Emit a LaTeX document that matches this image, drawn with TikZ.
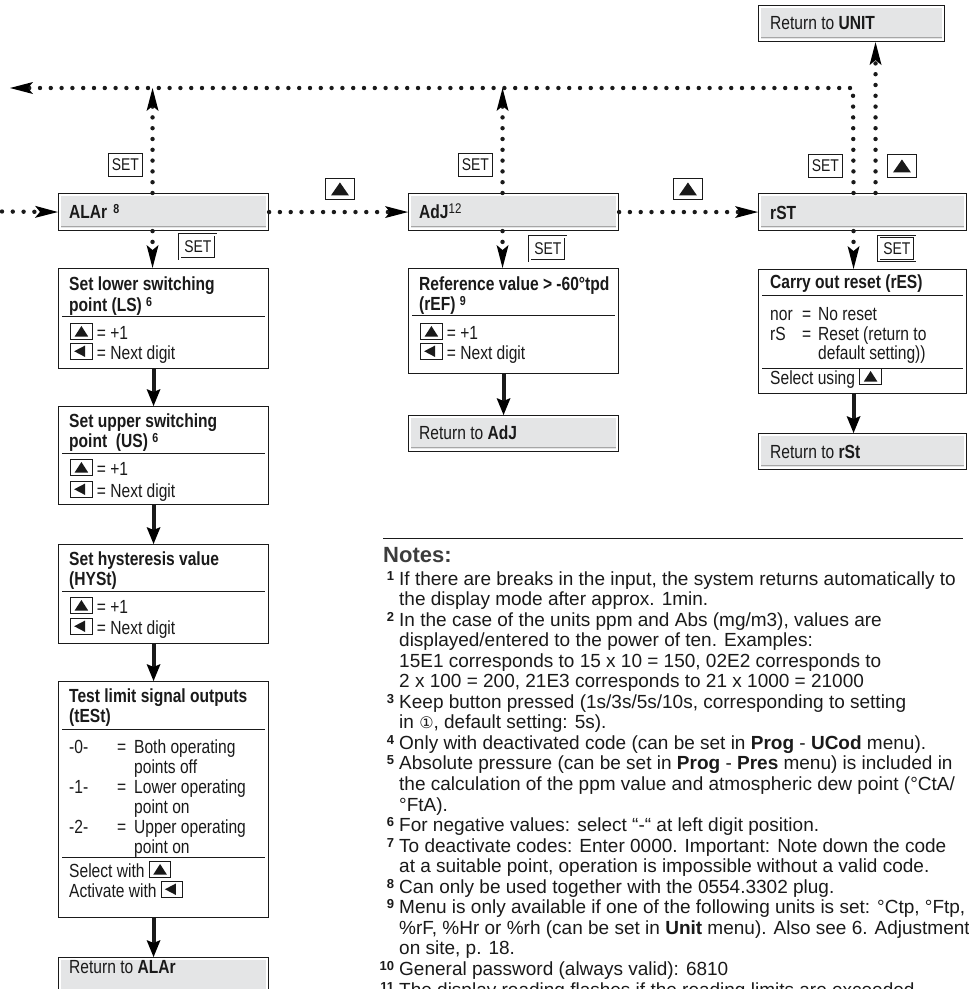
\documentclass[tikz,border=0pt]{standalone}
\usepackage{fontspec}
\setmainfont{Liberation Sans}
\newfontfamily\cond[FakeStretch=0.82]{Liberation Sans}
\newfontfamily\dejavu{DejaVu Sans}
\usetikzlibrary{arrows.meta,calc}
\definecolor{boxgrey}{HTML}{E4E5E6}
\definecolor{ink}{HTML}{1A1A1A}
\newcommand\upkey{\tikz[baseline=0pt,x=1pt,y=1pt]{\draw[line width=0.9pt,ink] (0.5,0) rectangle (22,15.5); \fill[ink] (4.5,2.5) -- (18,2.5) -- (11.25,13) -- cycle;}}
\newcommand\leftkey{\tikz[baseline=0pt,x=1pt,y=1pt]{\draw[line width=0.9pt,ink] (0.5,0) rectangle (22,15.5); \fill[ink] (4,7.75) -- (15,13.5) -- (15,2) -- cycle;}}
\newcommand\tri{\tikz[x=1pt,y=1pt]\fill[ink] (0,0) -- (18,0) -- (9,13) -- cycle;}
\newcommand\supb[1]{\raisebox{4.5pt}{\fontsize{13}{12}\selectfont\bfseries #1}}
\newcommand\supr[1]{\raisebox{4.5pt}{\fontsize{14}{12}\selectfont\mdseries #1}}
\newcommand\nn[1]{\makebox[12pt][r]{\raisebox{5pt}[0pt][0pt]{\fontsize{13}{12}\selectfont\bfseries #1}}}
\newcommand\tx[5][bd]{\node[#1] (#2) at (#3,#4) {#5};}
\newcommand\retnode[5]{%
  \node[boxst, minimum width={#4-#2}, minimum height={#5-#3}] (#1) at (#2,#3) {};
  \fill[boxgrey] ($(#1.north west)+(3,3)$) rectangle ($(#1.south east)+(-3,-3)$);
  \draw[gray!70, line width=1.4pt] ($(#1.south west)+(3,-4.5)$) -- ($(#1.south east)+(-3,-4.5)$);
}
\tikzset{
  boxst/.style={draw=ink, line width=1.1pt, fill=white, inner sep=0pt, anchor=north west},
  hd/.style={font=\cond\bfseries\fontsize{19}{20}\selectfont, anchor=base west, inner sep=0pt, text=ink},
  bd/.style={font=\cond\fontsize{19}{20}\selectfont, anchor=base west, inner sep=0pt, text=ink},
  dotln/.style={line width=4.4pt, line cap=round, dash pattern=on 0pt off 10.8pt, draw=ink},
  dotarr/.style={dotln, -{Stealth[length=23pt,width=12pt,inset=5pt,line width=0pt]}},
  solarr/.style={line width=4pt, draw=ink, -{Stealth[length=17pt,width=14pt,inset=3pt,line width=0pt]}},
  keysgl/.style={draw=ink, line width=0.9pt, inner sep=0pt, font=\cond\fontsize{17}{17}\selectfont, text=ink, anchor=north west},
  keydbl/.style={draw=ink, double=white, double distance=1.4pt, line width=0.8pt, inner sep=0pt, font=\cond\fontsize{17}{17}\selectfont, text=ink, anchor=north west},
  sepl/.style={draw=ink, line width=1pt},
}
\begin{document}
\begin{tikzpicture}[x=1pt,y=-1pt]
\useasboundingbox (0,0) rectangle (969,989);
\clip (0,0) rectangle (969,989);
\fill[white] (0,0) rectangle (969,989);

% ---- top row
\retnode{unit}{758}{5}{944}{41}
\tx{tunit}{770}{29}{Return to \textbf{UNIT}}
\retnode{alar}{58}{193}{268}{230}
\tx[hd]{talar}{69}{218}{ALAr\hspace{6pt}\supb{8}}
\retnode{adj}{408}{193}{618}{230}
\tx[hd]{tadj}{419}{218}{AdJ\supr{12}}
\retnode{rst}{758}{193}{966}{230}
\tx[hd]{trst}{770}{219}{rST}

\coordinate (corner) at (853,88);
\coordinate (leftend) at (10,88);
\coordinate (inL) at (2,211.5);

% ---- left column
\node[boxst, minimum width=210pt, minimum height=100pt] (b1) at (58,268) {};
\draw[sepl] ($(b1.north west)+(4,48)$) -- ($(b1.north east)+(-4,48)$);
\tx[hd]{t1a}{69}{290}{Set lower switching}
\tx[hd]{t1b}{69}{311}{point (LS) \supb{6}}
\tx{t1c}{70}{339}{\upkey{} = +1}
\tx{t1d}{70}{359}{\leftkey{} = Next digit}

\node[boxst, minimum width=210pt, minimum height=98pt] (b2) at (58,406) {};
\draw[sepl] ($(b2.north west)+(4,47)$) -- ($(b2.north east)+(-4,47)$);
\tx[hd]{t2a}{69}{427}{Set upper switching}
\tx[hd]{t2b}{69}{447}{point\ \ (US) \supb{6}}
\tx{t2c}{70}{475}{\upkey{} = +1}
\tx{t2d}{70}{497}{\leftkey{} = Next digit}

\node[boxst, minimum width=210pt, minimum height=99pt] (b3) at (58,544) {};
\draw[sepl] ($(b3.north west)+(4,47)$) -- ($(b3.north east)+(-4,47)$);
\tx[hd]{t3a}{69}{565}{Set hysteresis value}
\tx[hd]{t3b}{69}{585}{(HYSt)}
\tx{t3c}{70}{613}{\upkey{} = +1}
\tx{t3d}{70}{634}{\leftkey{} = Next digit}

\node[boxst, minimum width=210pt, minimum height=236pt] (b4) at (58,681) {};
\draw[sepl] ($(b4.north west)+(4,48)$) -- ($(b4.north east)+(-4,48)$);
\draw[sepl] ($(b4.north west)+(4,176)$) -- ($(b4.north east)+(-4,176)$);
\tx[hd]{t4a}{69}{702}{Test limit signal outputs}
\tx[hd]{t4b}{69}{722}{(tESt)}
\tx{t4c}{69}{753}{\makebox[48pt][l]{-0-}\makebox[17pt][l]{=}Both operating}
\tx{t4d}{134}{773}{points off}
\tx{t4e}{69}{793}{\makebox[48pt][l]{-1-}\makebox[17pt][l]{=}Lower operating}
\tx{t4f}{134}{813}{point on}
\tx{t4g}{69}{833}{\makebox[48pt][l]{-2-}\makebox[17pt][l]{=}Upper operating}
\tx{t4h}{134}{853}{point on}
\tx{t4i}{69}{877}{Select with \upkey}
\tx{t4j}{69}{897}{Activate with \leftkey}

\retnode{ret1}{58}{957}{268}{993}
\tx{tret1}{69}{973}{Return to \textbf{ALAr}}

% ---- middle column
\node[boxst, minimum width=210pt, minimum height=105pt] (ref) at (408,268) {};
\draw[sepl] ($(ref.north west)+(4,47)$) -- ($(ref.north east)+(-4,47)$);
\tx[hd]{tra}{419}{290}{Reference value > -60°tpd}
\tx[hd]{trb}{419}{310}{(rEF) \supb{9}}
\tx{trc}{420}{339}{\upkey{} = +1}
\tx{trd}{420}{359}{\leftkey{} = Next digit}
\retnode{ret2}{408}{415}{618}{451}
\tx{tret2}{419}{439}{Return to \textbf{AdJ}}

% ---- right column
\node[boxst, minimum width=208pt, minimum height=124pt] (carry) at (758,269) {};
\draw[sepl] ($(carry.north west)+(4,26)$) -- ($(carry.north east)+(-4,26)$);
\draw[sepl] ($(carry.north west)+(4,99)$) -- ($(carry.north east)+(-4,99)$);
\tx[hd]{tca}{770}{288}{Carry out reset (rES)}
\tx{tcb}{770}{320}{\makebox[32pt][l]{nor}\makebox[16pt][l]{=}No reset}
\tx{tcc}{770}{340}{\makebox[32pt][l]{rS}\makebox[16pt][l]{=}Reset (return to}
\tx{tcd}{818}{359}{default setting))}
\tx{tce}{770}{384}{Select using \upkey}
\retnode{ret3}{758}{433}{966}{469}
\tx{tret3}{770}{458}{Return to \textbf{rSt}}

% ---- key labels
\node[keysgl, minimum width=34pt, minimum height=23pt] (s1) at (108,153) {SET};
\node[keysgl, minimum width=34pt, minimum height=23pt] (s2) at (458,153) {SET};
\node[keysgl, minimum width=34pt, minimum height=23pt] (s3) at (808,154) {SET};
\node[keysgl, minimum width=29pt, minimum height=23pt] (u3) at (887,154) {\tri};
\node[keysgl, minimum width=29pt, minimum height=21pt] (u1) at (325,178) {\tri};
\node[keysgl, minimum width=29pt, minimum height=21pt] (u2) at (673,178) {\tri};
\node[keydbl, minimum width=36pt, minimum height=24pt] (d1) at (179.5,234.5) {SET};
\node[keydbl, minimum width=36pt, minimum height=24pt] (d2) at (529.5,236.5) {SET};
\node[keydbl, minimum width=36pt, minimum height=24pt] (d3) at (878.5,236) {SET};

% ---- dotted connectors
\draw[dotarr] (inL) -- (alar.west);
\draw[dotarr] (alar.east) -- (adj.west);
\draw[dotarr] (adj.east) -- (rst.west);
\draw[dotarr] ([xshift=-11pt]alar.north) -- ([xshift=-11pt]alar.north |- corner);
\draw[dotarr] ([xshift=-11pt]adj.north) -- ([xshift=-11pt]adj.north |- corner);
\draw[dotarr] ([xshift=-9pt]rst.north) -- (corner) -- (leftend);
\draw[dotarr] ([xshift=13pt]rst.north) -- ([xshift=13pt]rst.north |- unit.south);
\draw[dotarr] ([xshift=-11pt]alar.south) -- ([xshift=-11pt]b1.north);
\draw[dotarr] ([xshift=-11pt]adj.south) -- ([xshift=-11pt]ref.north);
\draw[dotarr] ([xshift=-9pt]rst.south) -- ([xshift=-9pt]carry.north);

% ---- solid connectors
\draw[solarr] ([xshift=-10pt]b1.south) -- ([xshift=-10pt]b2.north);
\draw[solarr] ([xshift=-10pt]b2.south) -- ([xshift=-10pt]b3.north);
\draw[solarr] ([xshift=-10pt]b3.south) -- ([xshift=-10pt]b4.north);
\draw[solarr] ([xshift=-10pt]b4.south) -- ([xshift=-10pt]ret1.north);
\draw[solarr] ([xshift=-10pt]ref.south) -- ([xshift=-10pt]ret2.north);
\draw[solarr] ([xshift=-9pt]carry.south) -- ([xshift=-9pt]ret3.north);

% ---- notes
\draw[ink, line width=0.8pt] (383,538) -- (963,538);
\node[anchor=base west, inner sep=0pt, font=\fontsize{22}{24}\selectfont\bfseries, text=ink!85] (notesh) at (383,562) {Notes:};
\node[anchor=base west, inner sep=0pt, font=\fontsize{19}{20.55}\selectfont, text=ink] (notes) at (382,585) {%
\begin{tabular}[t]{@{}l@{\hspace{5pt}}l@{}}
\nn{1} & If there are breaks in the input, the system returns automatically to\\
 & the display mode after approx. 1min.\\
\nn{2} & In the case of the units ppm and Abs (mg/m3), values are\\
 & displayed/entered to the power of ten. Examples:\\
 & 15E1 corresponds to 15 x 10 = 150, 02E2 corresponds to\\
 & 2 x 100 = 200, 21E3 corresponds to 21 x 1000 = 21000\\
\nn{3} & Keep button pressed (1s/3s/5s/10s, corresponding to setting\\
 & in {\dejavu\fontsize{16}{16}\selectfont ①}, default setting: 5s).\\
\nn{4} & Only with deactivated code (can be set in \textbf{Prog} - \textbf{UCod} menu).\\
\nn{5} & Absolute pressure (can be set in \textbf{Prog} - \textbf{Pres} menu) is included in\\
 & the calculation of the ppm value and atmospheric dew point (°CtA/\\
 & °FtA).\\
\nn{6} & For negative values: select “-“ at left digit position.\\
\nn{7} & To deactivate codes: Enter 0000. Important: Note down the code\\
 & at a suitable point, operation is impossible without a valid code.\\
\nn{8} & Can only be used together with the 0554.3302 plug.\\
\nn{9} & Menu is only available if one of the following units is set: °Ctp, °Ftp,\\
 & \%rF, \%Hr or \%rh (can be set in \textbf{Unit} menu). Also see 6. Adjustment\\
 & on site, p. 18.\\
\nn{10} & General password (always valid): 6810\\
\nn{11} & The display reading flashes if the reading limits are exceeded\\
\end{tabular}};
\end{tikzpicture}
\end{document}
